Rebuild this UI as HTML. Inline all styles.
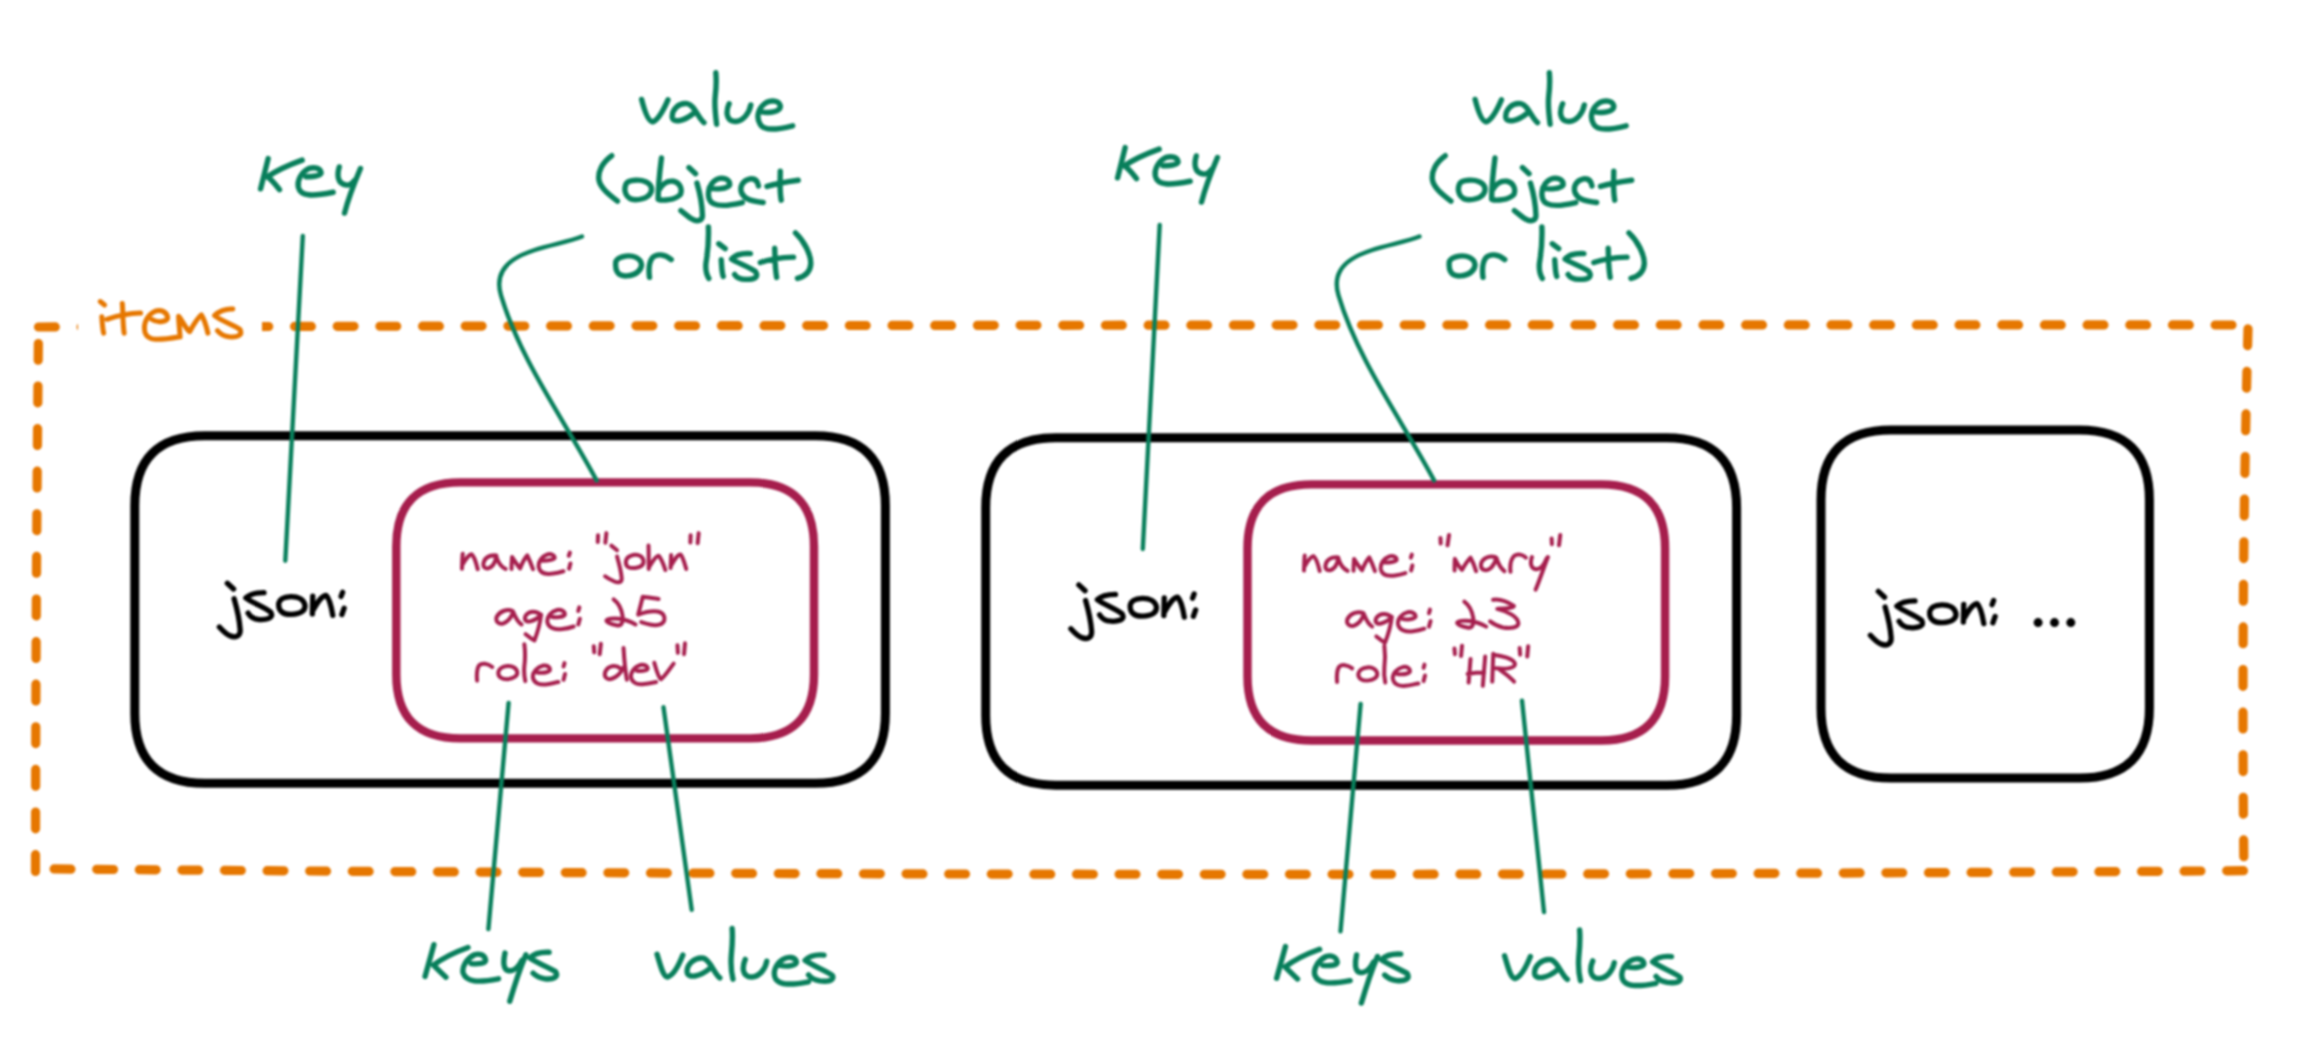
<!DOCTYPE html>
<html><head><meta charset="utf-8"><style>
html,body{margin:0;padding:0;background:#fff;font-family:"Liberation Sans",sans-serif;width:2324px;height:1058px;overflow:hidden}
svg{display:block;filter:blur(1px)}
</style></head><body>
<svg width="2324" height="1058" viewBox="0 0 2324 1058">
<rect width="2324" height="1058" fill="#fff"/>
<g fill="none" stroke-linecap="round" stroke-linejoin="round">
<g stroke="#e67700" stroke-width="9.2" stroke-dasharray="16.8 25.8">
<path d="M38.5 327 Q1144 324.4 2250 325" stroke-dasharray="16.8 25.88"/>
<path d="M2248 328.8 Q2240.8 600 2244 872"/>
<path d="M2243.5 870.7 Q1139.5 878.8 35.5 868.8"/>
<path d="M35.5 871.5 Q35.7 600 38.5 330"/>
</g>
<rect x="78" y="295" width="184" height="52" fill="#fff" stroke="none"/>
<g stroke="#000" stroke-width="9">
<path d="M204.8 435.7 L815.4 435.7 Q885.4 435.7 885.4 505.7 L885.4 713.2 Q885.4 783.2 815.4 783.2 L204.8 783.2 Q134.8 783.2 134.8 713.2 L134.8 505.7 Q134.8 435.7 204.8 435.7 Z"/><path d="M1055.7 437.8 L1666.6 437.8 Q1736.6 437.8 1736.6 507.8 L1736.6 715.2 Q1736.6 785.2 1666.6 785.2 L1055.7 785.2 Q985.7 785.2 985.7 715.2 L985.7 507.8 Q985.7 437.8 1055.7 437.8 Z"/><path d="M1891.0 430.0 L2079.4 430.0 Q2149.4 430.0 2149.4 500.0 L2149.4 708.1 Q2149.4 778.1 2079.4 778.1 L1891.0 778.1 Q1821.0 778.1 1821.0 708.1 L1821.0 500.0 Q1821.0 430.0 1891.0 430.0 Z"/>
</g>
<g stroke="#a61e4d" stroke-width="8.4">
<path d="M460.3 482.4 L750.0 482.4 Q814.0 482.4 814.0 546.4 L814.0 674.4 Q814.0 738.4 750.0 738.4 L460.3 738.4 Q396.3 738.4 396.3 674.4 L396.3 546.4 Q396.3 482.4 460.3 482.4 Z"/><path d="M1311.5 484.4 L1601.1 484.4 Q1665.1 484.4 1665.1 548.4 L1665.1 676.5 Q1665.1 740.5 1601.1 740.5 L1311.5 740.5 Q1247.5 740.5 1247.5 676.5 L1247.5 548.4 Q1247.5 484.4 1311.5 484.4 Z"/>
</g>
<g fill="#000" stroke="none">
<circle cx="2038.1" cy="622.6" r="4.5"/><circle cx="2054.5" cy="622.6" r="4.5"/><circle cx="2070.8" cy="622.6" r="4.5"/>
</g>
<path transform="translate(630.00 70.00) scale(0.07746)" d="M150,380 C185,520 230,660 290,670 C360,650 440,500 490,385 M955,680 C880,620 830,450 740,435 C620,420 540,520 545,610 C555,690 700,660 820,560 M1108,35 C1118,150 1110,260 1100,340 C1090,430 1100,560 1118,700 M1280,435 C1240,520 1230,660 1360,665 C1460,660 1540,560 1560,450 M1700,540 C1800,560 1950,540 1940,460 C1920,390 1820,390 1760,420 C1660,480 1620,600 1680,700 C1730,790 1900,770 2100,720" stroke="#087f5b" stroke-width="69.7"/>
<path transform="translate(590.00 150.00) scale(0.09466)" d="M230,60 C130,130 80,230 95,320 C110,400 200,470 290,540 M380,360 C350,430 380,525 480,525 C590,525 655,470 650,410 C645,340 550,310 470,320 C420,325 390,335 380,360 M755,85 C740,200 720,350 720,520 C760,540 900,530 955,470 C975,420 960,350 880,330 C810,320 760,370 730,420 M1045,185 L1115,250 M1130,350 C1160,450 1185,600 1188,690 C1190,750 1130,760 1080,730 C1040,710 1000,670 960,640 M1260,400 C1330,420 1450,410 1475,370 C1480,320 1430,290 1370,300 C1280,320 1230,430 1260,520 C1290,600 1420,600 1610,555 M1780,380 C1770,320 1740,300 1690,305 C1610,320 1580,390 1600,450 C1630,520 1700,540 1830,555 M2010,225 C2010,330 2000,420 2020,530 M1870,385 C1950,360 2050,340 2200,320" stroke="#087f5b" stroke-width="57.0"/>
<path transform="translate(600.00 220.00) scale(0.09897)" d="M160,420 C150,500 170,570 270,565 C370,560 420,500 420,450 C410,380 330,355 260,365 C200,375 170,395 160,420 M500,580 C490,500 490,430 530,380 C570,340 650,340 720,400 M1095,70 C1100,200 1090,320 1070,440 C1065,500 1080,560 1100,590 M1200,240 L1265,290 M1225,400 C1230,470 1230,530 1245,570 M1520,340 C1430,335 1360,360 1330,395 C1380,430 1500,470 1570,520 C1610,580 1560,600 1470,600 C1420,600 1380,580 1360,550 M1765,285 C1770,380 1765,470 1785,580 M1620,430 C1700,400 1800,380 1955,375 M1975,130 C2070,220 2130,350 2130,440 C2125,530 2070,570 1995,590" stroke="#087f5b" stroke-width="54.6"/>
<path transform="translate(1463.50 70.00) scale(0.07746)" d="M150,380 C185,520 230,660 290,670 C360,650 440,500 490,385 M955,680 C880,620 830,450 740,435 C620,420 540,520 545,610 C555,690 700,660 820,560 M1108,35 C1118,150 1110,260 1100,340 C1090,430 1100,560 1118,700 M1280,435 C1240,520 1230,660 1360,665 C1460,660 1540,560 1560,450 M1700,540 C1800,560 1950,540 1940,460 C1920,390 1820,390 1760,420 C1660,480 1620,600 1680,700 C1730,790 1900,770 2100,720" stroke="#087f5b" stroke-width="69.7"/>
<path transform="translate(1423.50 150.00) scale(0.09466)" d="M230,60 C130,130 80,230 95,320 C110,400 200,470 290,540 M380,360 C350,430 380,525 480,525 C590,525 655,470 650,410 C645,340 550,310 470,320 C420,325 390,335 380,360 M755,85 C740,200 720,350 720,520 C760,540 900,530 955,470 C975,420 960,350 880,330 C810,320 760,370 730,420 M1045,185 L1115,250 M1130,350 C1160,450 1185,600 1188,690 C1190,750 1130,760 1080,730 C1040,710 1000,670 960,640 M1260,400 C1330,420 1450,410 1475,370 C1480,320 1430,290 1370,300 C1280,320 1230,430 1260,520 C1290,600 1420,600 1610,555 M1780,380 C1770,320 1740,300 1690,305 C1610,320 1580,390 1600,450 C1630,520 1700,540 1830,555 M2010,225 C2010,330 2000,420 2020,530 M1870,385 C1950,360 2050,340 2200,320" stroke="#087f5b" stroke-width="57.0"/>
<path transform="translate(1433.50 220.00) scale(0.09897)" d="M160,420 C150,500 170,570 270,565 C370,560 420,500 420,450 C410,380 330,355 260,365 C200,375 170,395 160,420 M500,580 C490,500 490,430 530,380 C570,340 650,340 720,400 M1095,70 C1100,200 1090,320 1070,440 C1065,500 1080,560 1100,590 M1200,240 L1265,290 M1225,400 C1230,470 1230,530 1245,570 M1520,340 C1430,335 1360,360 1330,395 C1380,430 1500,470 1570,520 C1610,580 1560,600 1470,600 C1420,600 1380,580 1360,550 M1765,285 C1770,380 1765,470 1785,580 M1620,430 C1700,400 1800,380 1955,375 M1975,130 C2070,220 2130,350 2130,440 C2125,530 2070,570 1995,590" stroke="#087f5b" stroke-width="54.6"/>
<path transform="translate(250.00 145.00) scale(0.07563)" d="M240,180 L140,580 M690,200 C550,250 350,340 230,420 C300,470 350,540 390,590 M740,420 C830,420 930,410 940,370 C930,300 850,290 780,310 C680,360 620,460 640,560 C670,680 820,680 1100,625 M1180,290 C1150,390 1150,520 1280,530 C1330,530 1360,500 1380,470 M1460,310 C1380,500 1300,700 1250,900" stroke="#087f5b" stroke-width="71.4"/>
<path transform="translate(1107.00 134.00) scale(0.07563)" d="M240,180 L140,580 M690,200 C550,250 350,340 230,420 C300,470 350,540 390,590 M740,420 C830,420 930,410 940,370 C930,300 850,290 780,310 C680,360 620,460 640,560 C670,680 820,680 1100,625 M1180,290 C1150,390 1150,520 1280,530 C1330,530 1360,500 1380,470 M1460,310 C1380,500 1300,700 1250,900" stroke="#087f5b" stroke-width="71.4"/>
<path transform="translate(415.00 925.00) scale(0.08032)" d="M235,245 L125,640 M660,280 C520,330 360,400 230,500 C290,560 340,610 385,650 M700,480 C780,490 880,480 880,440 C870,370 800,350 740,370 C640,420 580,520 600,600 C640,710 780,720 1040,670 M1120,350 C1100,440 1090,560 1170,570 C1240,575 1300,500 1330,440 M1380,370 C1300,560 1230,780 1180,950 M1670,340 C1580,335 1480,360 1430,410 C1520,470 1680,540 1750,580 C1790,650 1720,680 1620,670 C1550,660 1500,630 1470,600" stroke="#087f5b" stroke-width="67.2"/>
<path transform="translate(1266.60 926.80) scale(0.08032)" d="M235,245 L125,640 M660,280 C520,330 360,400 230,500 C290,560 340,610 385,650 M700,480 C780,490 880,480 880,440 C870,370 800,350 740,370 C640,420 580,520 600,600 C640,710 780,720 1040,670 M1120,350 C1100,440 1090,560 1170,570 C1240,575 1300,500 1330,440 M1380,370 C1300,560 1230,780 1180,950 M1670,340 C1580,335 1480,360 1430,410 C1520,470 1680,540 1750,580 C1790,650 1720,680 1620,670 C1550,660 1500,630 1470,600" stroke="#087f5b" stroke-width="67.2"/>
<path transform="translate(645.00 925.00) scale(0.08606)" d="M140,340 C180,470 210,600 260,605 C330,590 400,450 440,350 M870,615 C800,560 760,410 680,385 C580,370 480,460 490,550 C500,620 630,610 760,500 M1012,40 C1022,150 1012,260 1003,350 C995,450 1005,560 1022,630 M1165,400 C1130,480 1120,600 1240,605 C1330,600 1400,510 1415,420 M1570,470 C1660,490 1760,470 1760,430 C1750,370 1660,360 1600,400 C1510,460 1480,560 1520,630 C1570,700 1700,700 1900,660 M2080,350 C1980,340 1900,370 1860,410 C1960,480 2120,540 2180,590 C2200,650 2120,660 2030,650 C1970,640 1930,620 1900,580" stroke="#087f5b" stroke-width="62.7"/>
<path transform="translate(1492.50 926.50) scale(0.08606)" d="M140,340 C180,470 210,600 260,605 C330,590 400,450 440,350 M870,615 C800,560 760,410 680,385 C580,370 480,460 490,550 C500,620 630,610 760,500 M1012,40 C1022,150 1012,260 1003,350 C995,450 1005,560 1022,630 M1165,400 C1130,480 1120,600 1240,605 C1330,600 1400,510 1415,420 M1570,470 C1660,490 1760,470 1760,430 C1750,370 1660,360 1600,400 C1510,460 1480,560 1520,630 C1570,700 1700,700 1900,660 M2080,350 C1980,340 1900,370 1860,410 C1960,480 2120,540 2180,590 C2200,650 2120,660 2030,650 C1970,640 1930,620 1900,580" stroke="#087f5b" stroke-width="62.7"/>
<path transform="translate(85.00 290.00) scale(0.07315)" d="M208,158 L268,205 M230,365 C235,450 240,530 255,590 M510,185 C520,300 515,450 535,590 M300,400 C420,360 580,320 760,315 M910,400 C1000,460 1130,430 1130,380 C1120,290 1030,265 960,290 C850,340 790,460 820,580 C860,700 1000,690 1300,640 M1300,640 C1290,500 1280,420 1280,360 C1320,400 1370,520 1430,570 C1480,480 1540,380 1590,340 C1630,400 1660,500 1680,590 M2020,260 C1920,250 1820,300 1770,350 C1860,420 2040,480 2120,540 C2160,620 2080,650 1970,640 C1890,630 1840,590 1810,555" stroke="#e67700" stroke-width="68.3"/>
<path transform="translate(205.00 570.00) scale(0.07561)" d="M295,175 L378,252 M385,380 C420,500 455,650 465,790 C470,880 400,900 330,870 C280,850 230,800 190,755 M780,300 C680,300 580,330 540,370 C620,430 800,500 870,560 C920,640 800,660 720,655 C650,650 600,620 570,570 M975,440 C965,545 1035,590 1140,588 C1270,582 1330,535 1322,465 C1305,385 1225,350 1135,352 C1045,356 985,390 975,440 M1420,580 L1425,345 M1425,540 C1480,440 1540,340 1600,335 C1650,380 1670,480 1690,600 M1820,295 L1800,350 M1840,505 L1810,590" stroke="#000" stroke-width="70.1"/>
<path transform="translate(1056.50 571.70) scale(0.07561)" d="M295,175 L378,252 M385,380 C420,500 455,650 465,790 C470,880 400,900 330,870 C280,850 230,800 190,755 M780,300 C680,300 580,330 540,370 C620,430 800,500 870,560 C920,640 800,660 720,655 C650,650 600,620 570,570 M975,440 C965,545 1035,590 1140,588 C1270,582 1330,535 1322,465 C1305,385 1225,350 1135,352 C1045,356 985,390 975,440 M1420,580 L1425,345 M1425,540 C1480,440 1540,340 1600,335 C1650,380 1670,480 1690,600 M1820,295 L1800,350 M1840,505 L1810,590" stroke="#000" stroke-width="70.1"/>
<path transform="translate(1856.00 578.20) scale(0.07561)" d="M295,175 L378,252 M385,380 C420,500 455,650 465,790 C470,880 400,900 330,870 C280,850 230,800 190,755 M780,300 C680,300 580,330 540,370 C620,430 800,500 870,560 C920,640 800,660 720,655 C650,650 600,620 570,570 M975,440 C965,545 1035,590 1140,588 C1270,582 1330,535 1322,465 C1305,385 1225,350 1135,352 C1045,356 985,390 975,440 M1420,580 L1425,345 M1425,540 C1480,440 1540,340 1600,335 C1650,380 1670,480 1690,600 M1820,295 L1800,350 M1840,505 L1810,590" stroke="#000" stroke-width="70.1"/>
<path transform="translate(455.00 540.00) scale(0.05163)" d="M135,555 C140,450 140,350 150,265 M150,470 C200,380 260,290 320,275 C360,300 400,400 440,565 M800,300 C700,290 600,320 560,420 C530,510 570,560 640,550 C720,530 780,430 800,320 C830,420 890,520 980,560 M1095,560 C1095,480 1100,400 1105,330 C1150,400 1200,480 1260,550 C1300,450 1350,350 1400,300 C1440,380 1480,480 1510,565 M1690,400 C1770,400 1900,390 1930,350 C1930,290 1860,260 1790,280 C1680,320 1610,420 1620,520 C1640,640 1760,670 1900,650 C1980,640 2050,620 2100,605 M2225,245 L2205,305 M2235,455 L2210,555" stroke="#a61e4d" stroke-width="77.5"/>
<path transform="translate(590.00 530.00) scale(0.05200)" d="M155,100 L150,230 M315,60 L295,245 M410,300 L520,390 M520,510 C560,650 600,800 610,930 C615,1010 540,1020 470,990 C400,960 340,930 290,890 M690,600 C680,720 760,740 870,730 C990,710 1040,660 1030,590 C1010,500 920,470 830,480 C740,500 700,540 690,600 M1125,300 C1130,450 1130,600 1130,750 M1140,710 C1200,610 1260,500 1320,495 C1370,540 1410,650 1450,770 M1550,730 L1560,480 M1555,690 C1620,580 1680,470 1740,470 C1790,520 1820,650 1850,750 M1935,100 L1930,240 M2090,60 L2070,255" stroke="#a61e4d" stroke-width="76.9"/>
<path transform="translate(490.00 595.00) scale(0.05163)" d="M440,310 C340,270 200,300 130,420 C100,510 170,580 260,550 C340,520 410,440 450,330 C490,430 540,530 610,570 M990,390 C900,300 760,300 690,400 C650,480 700,530 780,510 C860,490 940,440 990,380 C970,550 930,700 860,880 C800,850 740,800 690,760 M1190,420 C1280,440 1420,430 1450,380 C1450,310 1380,280 1300,290 C1180,320 1100,420 1110,520 C1130,640 1270,680 1400,660 C1480,650 1560,630 1620,610 M1730,240 L1710,310 M1740,460 L1710,570" stroke="#a61e4d" stroke-width="77.5"/>
<path transform="translate(600.00 590.00) scale(0.03781)" d="M360,250 C470,330 570,500 600,700 C620,850 560,950 470,940 C360,920 180,870 170,810 C180,760 350,740 500,760 C650,780 820,840 940,910" stroke="#a61e4d" stroke-width="105.8"/>
<path transform="translate(600.00 590.00) scale(0.03781)" d="M1550,240 C1400,220 1250,190 1130,180 M1130,180 C1090,350 1050,500 1010,650 M1010,650 C1150,600 1350,540 1520,570 C1680,600 1720,700 1700,800 C1670,920 1500,950 1350,920 C1250,900 1150,870 1090,850" stroke="#a61e4d" stroke-width="105.8"/>
<path transform="translate(470.00 640.00) scale(0.04726)" d="M150,860 C140,750 140,620 190,540 C250,480 370,490 470,570 M600,680 C590,790 680,830 790,830 C920,820 1010,760 1000,680 C990,600 900,540 790,550 C680,560 610,620 600,680 M1150,90 C1170,250 1170,400 1150,550 C1140,650 1150,780 1170,870 M1420,690 C1510,700 1650,690 1690,640 C1700,570 1630,530 1550,540 C1420,570 1320,680 1330,790 C1350,920 1480,950 1600,940 C1700,930 1800,900 1870,890 M2000,490 L1980,560 M2010,720 L1980,840" stroke="#a61e4d" stroke-width="84.6"/>
<path transform="translate(590.00 640.00) scale(0.04726)" d="M80,130 L90,260 M230,80 L205,300 M710,170 C720,350 730,550 780,840 M650,610 C540,510 380,540 320,680 C290,790 360,850 460,820 C560,790 650,700 700,590 M990,650 C1060,660 1200,660 1220,610 C1220,540 1140,510 1060,530 C930,570 850,700 870,800 C900,920 1030,950 1150,930 C1250,920 1340,900 1400,890 M1360,480 C1400,620 1440,780 1500,830 C1580,780 1680,620 1770,500 M1850,110 L1860,270 M2010,70 L1990,300" stroke="#a61e4d" stroke-width="84.6"/>
<path transform="translate(1297.00 541.90) scale(0.05163)" d="M135,555 C140,450 140,350 150,265 M150,470 C200,380 260,290 320,275 C360,300 400,400 440,565 M800,300 C700,290 600,320 560,420 C530,510 570,560 640,550 C720,530 780,430 800,320 C830,420 890,520 980,560 M1095,560 C1095,480 1100,400 1105,330 C1150,400 1200,480 1260,550 C1300,450 1350,350 1400,300 C1440,380 1480,480 1510,565 M1690,400 C1770,400 1900,390 1930,350 C1930,290 1860,260 1790,280 C1680,320 1610,420 1620,520 C1640,640 1760,670 1900,650 C1980,640 2050,620 2100,605 M2225,245 L2205,305 M2235,455 L2210,555" stroke="#a61e4d" stroke-width="77.5"/>
<path transform="translate(1430.00 530.00) scale(0.06143)" d="M170,130 L175,220 M310,80 L285,250 M400,660 C400,580 400,520 405,470 C440,540 480,610 520,650 C560,580 610,500 660,450 C700,520 730,600 750,670 M1060,440 C950,410 840,470 830,560 C820,660 920,680 990,620 C1040,570 1070,500 1080,450 C1110,550 1160,630 1210,670 M1310,680 C1300,580 1320,470 1370,420 C1430,380 1510,400 1560,450 M1660,440 C1630,520 1630,640 1740,640 C1810,630 1860,560 1900,460 M1920,440 C1850,620 1790,800 1720,970 M1980,140 L1985,230 M2120,80 L2100,250" stroke="#a61e4d" stroke-width="65.1"/>
<path transform="translate(1340.70 597.20) scale(0.05163)" d="M440,310 C340,270 200,300 130,420 C100,510 170,580 260,550 C340,520 410,440 450,330 C490,430 540,530 610,570 M990,390 C900,300 760,300 690,400 C650,480 700,530 780,510 C860,490 940,440 990,380 C970,550 930,700 860,880 C800,850 740,800 690,760 M1190,420 C1280,440 1420,430 1450,380 C1450,310 1380,280 1300,290 C1180,320 1100,420 1110,520 C1130,640 1270,680 1400,660 C1480,650 1560,630 1620,610 M1730,240 L1710,310 M1740,460 L1710,570" stroke="#a61e4d" stroke-width="77.5"/>
<path transform="translate(1450.70 592.20) scale(0.03781)" d="M360,250 C470,330 570,500 600,700 C620,850 560,950 470,940 C360,920 180,870 170,810 C180,760 350,740 500,760 C650,780 820,840 940,910" stroke="#a61e4d" stroke-width="105.8"/>
<path transform="translate(1450.00 590.00) scale(0.03781)" d="M1140,260 C1300,230 1500,300 1690,420 C1700,480 1450,490 1250,500 C1500,560 1800,700 1810,880 C1810,1000 1600,1020 1400,990 C1250,960 1150,900 1060,830" stroke="#a61e4d" stroke-width="105.8"/>
<path transform="translate(1330.00 641.40) scale(0.04726)" d="M150,860 C140,750 140,620 190,540 C250,480 370,490 470,570 M600,680 C590,790 680,830 790,830 C920,820 1010,760 1000,680 C990,600 900,540 790,550 C680,560 610,620 600,680 M1150,90 C1170,250 1170,400 1150,550 C1140,650 1150,780 1170,870 M1420,690 C1510,700 1650,690 1690,640 C1700,570 1630,530 1550,540 C1420,570 1320,680 1330,790 C1350,920 1480,950 1600,940 C1700,930 1800,900 1870,890 M2000,490 L1980,560 M2010,720 L1980,840" stroke="#a61e4d" stroke-width="84.6"/>
<path transform="translate(1445.00 640.00) scale(0.04726)" d="M200,180 L210,300 M360,120 L340,340 M540,400 L500,900 M850,350 L800,970 M480,720 C600,700 700,690 830,690 M1020,290 L1000,880 M1030,310 C1200,330 1450,400 1480,500 C1490,600 1300,620 1080,600 M1150,620 C1260,700 1380,780 1460,880 M1580,170 L1590,310 M1760,130 L1740,350" stroke="#a61e4d" stroke-width="84.6"/>
<g stroke="#087f5b" stroke-width="4.4">
<path d="M302.8 236 L285.3 560.7"/>
<path d="M582 236.5 C553 248.4 487.5 250 501 295.4 C520.5 360.9 564.8 420.6 596.6 480.4"/>
<path d="M508.6 703 L488.4 929"/>
<path d="M663.5 707.3 L691.7 909.7"/>
<path d="M1159.7 225 L1142.8 549"/>
<path transform="translate(837.5 0)" d="M582 236.5 C553 248.4 487.5 250 501 295.4 C520.5 360.9 564.8 420.6 596.6 480.4"/>
<path d="M1360.6 704 L1340.5 931.4"/>
<path d="M1522 700.6 L1544 912"/>
</g>
</g>
</svg>
</body></html>
